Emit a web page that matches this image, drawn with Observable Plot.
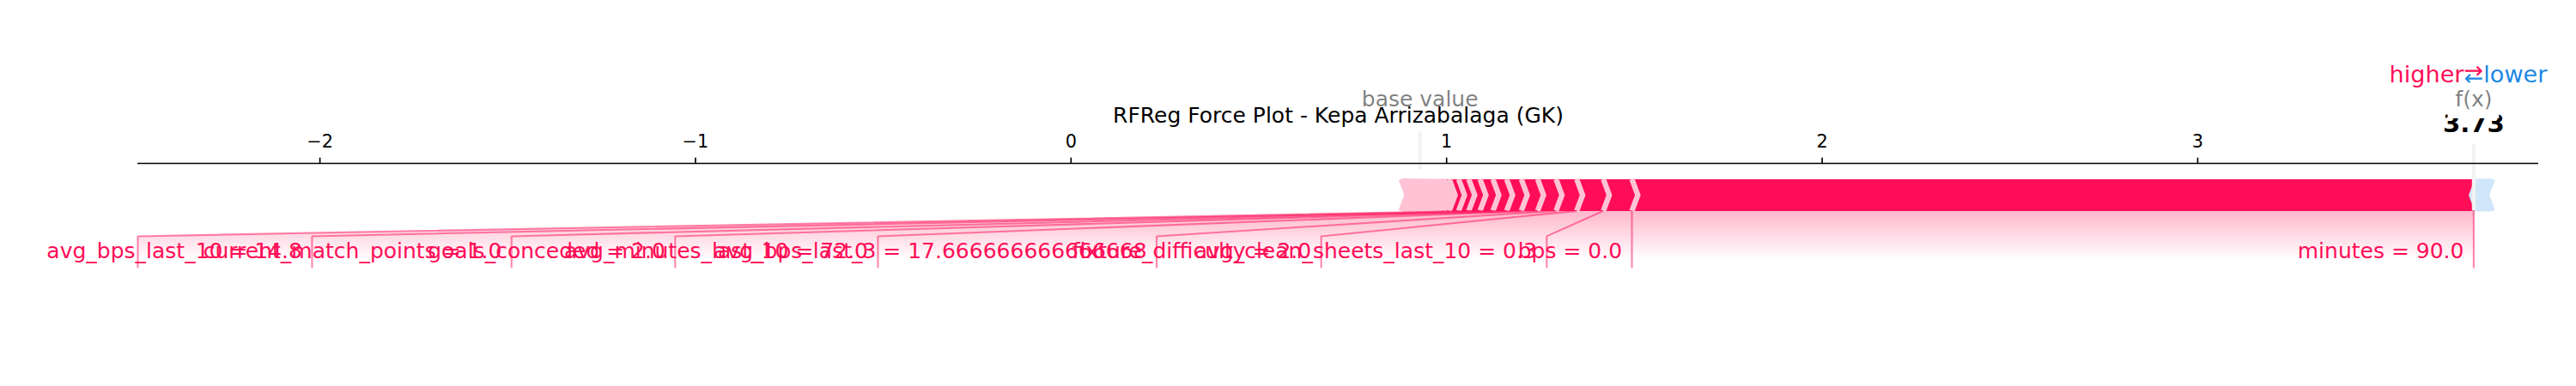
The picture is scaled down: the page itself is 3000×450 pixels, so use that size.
<!DOCTYPE html>
<html><head><meta charset="utf-8">
<script src="https://cdn.jsdelivr.net/npm/d3@7"></script>
<script src="https://cdn.jsdelivr.net/npm/@observablehq/plot@0.6"></script>
<style>body{margin:0;background:#fff}</style>
</head><body><div id="chart"></div>
<script>
// ---------------- data ----------------
const chartTitle = "RFReg Force Plot - Kepa Arrizabalaga (GK)";
const outName = "f(x)";
const baseValue = 0.929;
const featureNames = ["minutes", "bps", "avg_clean_sheets_last_10", "fixture_difficulty", "avg_bps_last_3",
  "avg_minutes_last_10", "goals_conceded", "current_match_points", "avg_bps_last_10"];
const featureValues = ["90.0", "0.0", "0.3", "2.0", "17.666666666666668", "72.0", "2.0", "1.0", "14.8"];
const featureEffects = [2.2415, 0.076, 0.071, 0.055, 0.049, 0.0435, 0.039, 0.0366, 0.0343];
// small unlabeled positive contributions (packed near the base value)
const minorPositiveEffects = [0.030, 0.027, 0.025, 0.014, 0.012, 0.011, 0.010, 0.009, 0.008, 0.008, 0.007, 0.007,
  0.006, 0.006, 0.005, 0.005, 0.004, 0.004, 0.003, 0.003, 0.002, 0.002, 0.001, 0.001];
// small unlabeled negative contributions (right of f(x))
const negativeEffects = [-0.010, -0.010, -0.009, -0.008, -0.007, -0.006];
const tickValues = [-2, -1, 0, 1, 2, 3];

// ---------------- styling constants ----------------
const PT = 150 / 72;
const RED = "#FF0D57", RED_LIGHT = "#FFC3D5", BLUE = "#1E88E5", BLUE_LIGHT = "#D1E6FA";
const FONT = '"DejaVu Sans"';
const labelSize = 12 * PT, tickSize = 10 * PT, hlSize = 13 * PT, outSize = 14 * PT;
const textPad = 4 * PT;
const barW = 0.1;

// ---------------- shap force-plot layout ----------------
const pos = featureEffects.map((e, i) => ({effect: e, name: featureNames[i], value: featureValues[i]}))
  .concat(minorPositiveEffects.map(e => ({effect: e, name: "", value: ""})))
  .sort((a, b) => b.effect - a.effect);
const neg = negativeEffects.map(e => ({effect: e})).sort((a, b) => a.effect - b.effect);
const sumPos = d3.sum(pos, d => d.effect), sumNeg = d3.sum(neg, d => Math.abs(d.effect));
const outValue = baseValue + sumPos - sumNeg;
let acc = outValue; pos.forEach(d => { acc -= Math.abs(d.effect); d.x = acc; });
acc = outValue; neg.forEach(d => { acc += Math.abs(d.effect); d.x = acc; });
const totalPos = d3.max(pos, d => d.x) - d3.min(pos, d => d.x);
const totalNeg = neg.length ? d3.max(neg, d => d.x) - d3.min(neg, d => d.x) : 0;
const offsetText = (Math.abs(totalNeg) + Math.abs(totalPos)) * 0.04;
const padding = Math.max(Math.abs(totalPos) * 0.2, Math.abs(totalNeg) * 0.2);
const minX0 = Math.min(d3.min(pos, d => d.x), baseValue) - padding;
const maxX = Math.max(neg.length ? d3.max(neg, d => d.x) : outValue, baseValue) + padding;
const sepW = (maxX - minX0) / 200;

// bars & separators
const barPts = [], sepPts = [];
let pre = outValue;
pos.forEach((d, i) => {
  const L = d.x, R = pre; pre = L;
  const id = "p" + i;
  const pts = i === 0
    ? [[L, 0], [R, 0], [R, barW], [L, barW], [L + sepW, barW / 2]]
    : [[L, 0], [R, 0], [R + sepW * 0.9, barW / 2], [R, barW], [L, barW], [L + sepW * 0.9, barW / 2]];
  pts.forEach(p => barPts.push({id, x: p[0], y: p[1], c: RED}));
  [[L, 0], [L + sepW, barW / 2], [L, barW]].forEach(p => sepPts.push({id, x: p[0], y: p[1], c: RED_LIGHT}));
});
pre = outValue;
neg.forEach((d, i) => {
  const L = pre, R = d.x; pre = R;
  const id = "n" + i, ind = -sepW;
  const pts = i === 0
    ? [[R, 0], [L, 0], [L, barW], [R, barW], [R + ind, barW / 2]]
    : [[L, 0], [R, 0], [R + ind * 0.9, barW / 2], [R, barW], [L, barW], [L + ind * 0.9, barW / 2]];
  pts.forEach(p => barPts.push({id, x: p[0], y: p[1], c: BLUE}));
  [[R, 0], [R + ind, barW / 2], [R, barW]].forEach(p => sepPts.push({id, x: p[0], y: p[1], c: BLUE_LIGHT}));
});

// labels (text extents measured at draw-time axis limits, like matplotlib)
const ctx = document.createElement("canvas").getContext("2d");
const measure = (t, size, weight = "normal") => { ctx.font = `${weight} ${size}px ${FONT}`; return ctx.measureText(t).width; };
const drawAxesPx = 2343;
const pxToData0 = (maxX - minX0) / drawAxesPx;
const totalEffect = Math.abs(totalNeg) + totalPos;
let startText = outValue, preVal = outValue, boxEnd = outValue;
const labels = [];
const labelLines = [{id: "init", x: outValue, y: 0}, {id: "init", x: outValue, y: -0.18}];
for (const [k, f] of pos.entries()) {
  if (Math.abs(f.x - preVal) / Math.abs(totalEffect) < 0.05) break;
  const val = f.x;
  const text = f.value === "" ? f.name : `${f.name} = ${f.value}`;
  const tx = startText - offsetText;
  labels.push({x: tx, y: -0.15, text});
  const be = tx - (measure(text, labelSize) + textPad) * pxToData0;
  if (be > val) {
    labelLines.push({id: "l" + k, x: val, y: 0}, {id: "l" + k, x: val, y: -0.18});
    startText = val; boxEnd = val;
  } else {
    boxEnd = be - offsetText;
    labelLines.push({id: "l" + k, x: val, y: 0}, {id: "l" + k, x: boxEnd, y: -0.08}, {id: "l" + k, x: boxEnd, y: -0.18});
    startText = boxEnd;
  }
  preVal = val;
}
const shade = [[outValue, 0], [preVal, 0], [boxEnd, -0.08], [boxEnd, -0.2], [outValue, -0.2]].map(p => ({x: p[0], y: p[1]}));
const xMin = Math.min(minX0, boxEnd);

// white text boxes (matplotlib bbox)
function textBox(x, y, text, size, weight) {
  const w = measure(text, size, weight);
  return Plot.rect([{x, y}], {x1: "x", x2: "x", y1: "y", y2: "y", fill: "white",
    insetLeft: -(w / 2 + textPad), insetRight: -(w / 2 + textPad),
    insetTop: -(0.76 * size + textPad), insetBottom: -(0.24 * size + textPad)});
}
const outLabel = outValue.toFixed(2);

const chart = Plot.plot({
  width: 3000, height: 450,
  marginLeft: 160, marginRight: 44, marginTop: 190, marginBottom: 20,
  x: {domain: [xMin, maxX], axis: null},
  y: {domain: [-0.5, 0.15], axis: null},
  style: {fontFamily: FONT, background: "white", overflow: "visible"},
  marks: [
    Plot.line(shade, {x: "x", y: "y", fill: "url(#posShade)", stroke: "none"}),
    Plot.line(barPts.filter(d => d.c === RED), {x: "x", y: "y", z: "id", fill: RED, stroke: "none"}),
    Plot.line(barPts.filter(d => d.c === BLUE), {x: "x", y: "y", z: "id", fill: BLUE, stroke: "none"}),
    Plot.line(sepPts.filter(d => d.c === RED_LIGHT), {x: "x", y: "y", z: "id", stroke: RED_LIGHT, strokeWidth: 3 * PT,
      strokeLinejoin: "miter", strokeLinecap: "butt", strokeMiterlimit: 10}),
    Plot.line(sepPts.filter(d => d.c === BLUE_LIGHT), {x: "x", y: "y", z: "id", stroke: BLUE_LIGHT, strokeWidth: 3 * PT,
      strokeLinejoin: "miter", strokeLinecap: "butt", strokeMiterlimit: 10}),
    Plot.line(labelLines, {x: "x", y: "y", z: "id", stroke: RED, strokeOpacity: 0.5, strokeWidth: 1 * PT,
      strokeLinejoin: "miter", strokeLinecap: "butt"}),
    Plot.ruleX([baseValue], {x: d => d, y1: 0.13, y2: 0.25, stroke: "#F2F2F2", strokeWidth: 2 * PT}),
    Plot.ruleX([outValue], {x: d => d, y1: 0, y2: 0.24, stroke: "#F2F2F2", strokeWidth: 2 * PT}),
    Plot.ruleY([0.15], {stroke: "black", strokeWidth: 0.8 * PT}),
    Plot.axisX({anchor: "top", ticks: tickValues, tickSize: 3.5 * PT, tickPadding: 11.7, fontSize: tickSize,
      strokeWidth: 0.8 * PT, stroke: "black", fill: "black", label: null, tickFormat: d3.format("d")}),
    Plot.text(labels, {x: "x", y: "y", text: "text", textAnchor: "end", lineAnchor: "bottom", fill: RED, fontSize: labelSize}),
    Plot.text(["higher"], {x: outValue - offsetText, y: 0.405, text: d => d, textAnchor: "end", lineAnchor: "bottom", fill: RED, fontSize: hlSize}),
    Plot.text(["lower"], {x: outValue + offsetText, y: 0.405, text: d => d, textAnchor: "start", lineAnchor: "bottom", fill: BLUE, fontSize: hlSize}),
    Plot.text(["\u2190"], {x: outValue, y: 0.4, text: d => d, textAnchor: "middle", lineAnchor: "bottom", fill: BLUE, fontSize: hlSize, dy: 2}),
    Plot.text(["\u2192"], {x: outValue, y: 0.425, text: d => d, textAnchor: "middle", lineAnchor: "bottom", fill: RED, fontSize: hlSize, dy: 2}),
    textBox(baseValue, 0.33, "base value", labelSize),
    Plot.text(["base value"], {x: baseValue, y: 0.33, text: d => d, textAnchor: "middle", lineAnchor: "bottom", fill: "#000", fillOpacity: 0.5, fontSize: labelSize}),
    textBox(outValue, 0.25, outLabel, outSize, "bold"),
    Plot.text([outLabel], {x: outValue, y: 0.25, text: d => d, textAnchor: "middle", lineAnchor: "bottom", fill: "#000", fontWeight: "bold", fontSize: outSize}),
    textBox(outValue, 0.33, outName, labelSize),
    Plot.text([outName], {x: outValue, y: 0.33, text: d => d, textAnchor: "middle", lineAnchor: "bottom", fill: "#000", fillOpacity: 0.5, fontSize: labelSize}),
    Plot.text([chartTitle], {frameAnchor: "top", text: d => d, lineAnchor: "bottom", dy: -47.3, fill: "#000", fontSize: labelSize})
  ]
});

const ys = chart.scale("y");
const svg = d3.select(chart);
const defs = svg.insert("defs", ":first-child");
const grad = defs.append("linearGradient").attr("id", "posShade").attr("gradientUnits", "userSpaceOnUse")
  .attr("x1", 0).attr("x2", 0).attr("y1", ys.apply(0)).attr("y2", ys.apply(-0.31));
grad.append("stop").attr("offset", 0).attr("stop-color", RED).attr("stop-opacity", 0.3);
grad.append("stop").attr("offset", 0.5).attr("stop-color", "#FFFFFF").attr("stop-opacity", 0.3);
grad.append("stop").attr("offset", 1).attr("stop-color", "#FFFFFF").attr("stop-opacity", 0.3);
document.getElementById("chart").appendChild(chart);
</script>
</body></html>
